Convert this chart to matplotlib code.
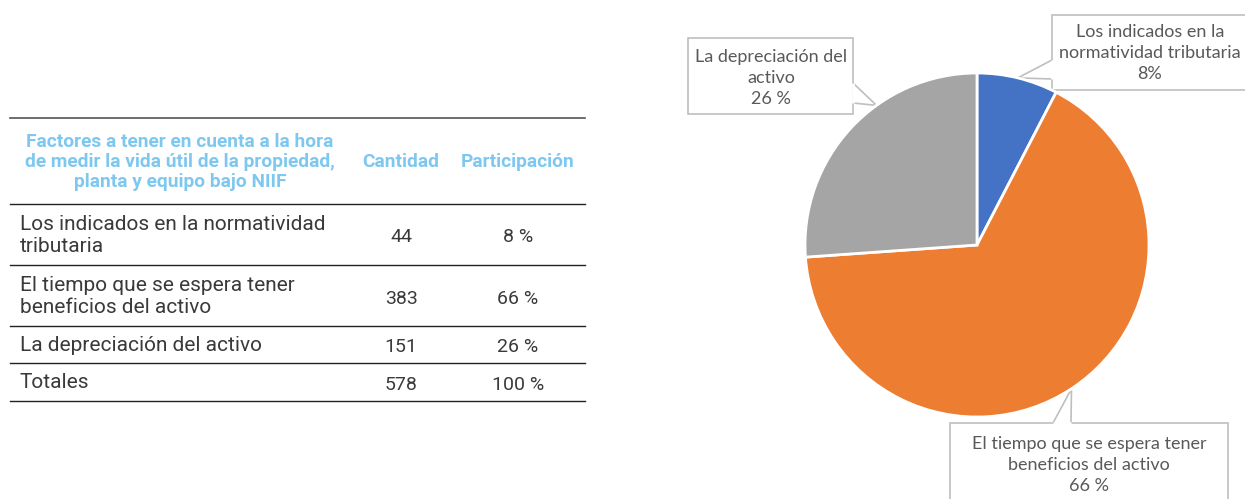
import matplotlib.pyplot as plt
import matplotlib.patches as mpatches
import numpy as np

# data for the table and the pie
factores = ["Los indicados en la normatividad\ntributaria",
            "El tiempo que se espera tener\nbeneficios del activo",
            "La depreciación del activo"]
cantidad = [44, 383, 151]
participacion = ["8 %", "66 %", "26 %"]
pie_labels = ["Los indicados en la\nnormatividad tributaria\n8%",
              "El tiempo que se espera tener\nbeneficios del activo\n66 %",
              "La depreciación del\nactivo\n26 %"]
pie_colors = ["#4472c4", "#ed7d31", "#a5a5a5"]

header_color = "#7ec8ef"
text_color = "#3a3a3a"
callout_text = "#595959"
callout_edge = "#bfbfbf"

W, H = 1245, 499
fig = plt.figure(figsize=(W / 100, H / 100), dpi=100)

# overlay axes in pixel units for the table and the callouts
ax = fig.add_axes([0, 0, 1, 1])
ax.set_xlim(0, W)
ax.set_ylim(H, 0)
ax.axis("off")

# ---- table ----
x0, x1 = 10, 585
col_c, col_p = 401, 518
ax.plot([x0, x1], [118, 118], color="#555555", lw=1.2)
ax.text(180, 162, "Factores a tener en cuenta a la hora\nde medir la vida útil de la propiedad,\nplanta y equipo bajo NIIF",
        ha="center", va="center", fontsize=13.8, fontweight="bold", color=header_color,
        family="Roboto", linespacing=1.12)
ax.text(col_c, 162, "Cantidad", ha="center", va="center", fontsize=13.8,
        fontweight="bold", color=header_color, family="Roboto")
ax.text(col_p, 162, "Participación", ha="center", va="center", fontsize=13.8,
        fontweight="bold", color=header_color, family="Roboto")

row_lines = [204, 265, 326, 363, 401]
rows = list(zip(factores, cantidad, participacion))
rows.append(("Totales", sum(cantidad), "100 %"))
for i, (name, cant, part) in enumerate(rows):
    top, bot = row_lines[i], row_lines[i + 1]
    yc = (top + bot) / 2 + 1
    ax.plot([x0, x1], [top, top], color="#222222", lw=1.0)
    ax.text(20, yc, name, ha="left", va="center", fontsize=15,
            color=text_color, family="Roboto", linespacing=1.15)
    ax.text(col_c, yc + 2, str(cant), ha="center", va="center", fontsize=14,
            color=text_color, family="Roboto")
    ax.text(col_p, yc + 2, part, ha="center", va="center", fontsize=14,
            color=text_color, family="Roboto")
ax.plot([x0, x1], [row_lines[-1], row_lines[-1]], color="#222222", lw=1.0)

# ---- pie ----
cx, cy, r = 977, 245, 172
pax = fig.add_axes([(cx - r) / W, (H - cy - r) / H, 2 * r / W, 2 * r / H])
wedges, _ = pax.pie(cantidad, colors=pie_colors, startangle=90, counterclock=False,
                    radius=1, wedgeprops=dict(edgecolor="white", linewidth=2))
pax.set_xlim(-1, 1)
pax.set_ylim(-1, 1)
pax.set_aspect("equal")
pax.axis("off")

# callout boxes: (left, top, right, bottom), opening on the box edge, anchor fraction in wedge
boxes = [
    ((1052, 15, 1260, 90), ((1052, 60), (1052, 79)), 0.5),
    ((950, 423, 1228, 520), ((1053, 423), (1071, 423)), 0.5),
    ((688, 38, 853, 114), ((853, 83), (853, 103)), 0.38),
]
text_pos = [(1150, 53), (1089, 465), (771, 78)]

for w, lab, (box, base, frac), (tx, ty) in zip(wedges, pie_labels, boxes, text_pos):
    ang = np.deg2rad(w.theta1 + frac * (w.theta2 - w.theta1))
    px, py = cx + r * np.cos(ang), cy - r * np.sin(ang)
    l, t, rr, b = box
    ax.add_patch(mpatches.Rectangle((l, t), rr - l, b - t, facecolor="white",
                                    edgecolor=callout_edge, lw=1.2, zorder=3))
    poly = mpatches.Polygon([base[0], (px, py), base[1]], closed=False,
                            facecolor="white", edgecolor=callout_edge, lw=1.2, zorder=4)
    ax.add_patch(poly)
    # cover the box border under the callout opening
    ax.plot([base[0][0], base[1][0]], [base[0][1], base[1][1]], color="white",
            lw=2, zorder=4.5, solid_capstyle="butt")
    ax.text(tx, ty, lab, ha="center", va="center", fontsize=13, color=callout_text,
            family="Lato", linespacing=1.42, zorder=5)

fig.savefig("out.png", dpi=100)
